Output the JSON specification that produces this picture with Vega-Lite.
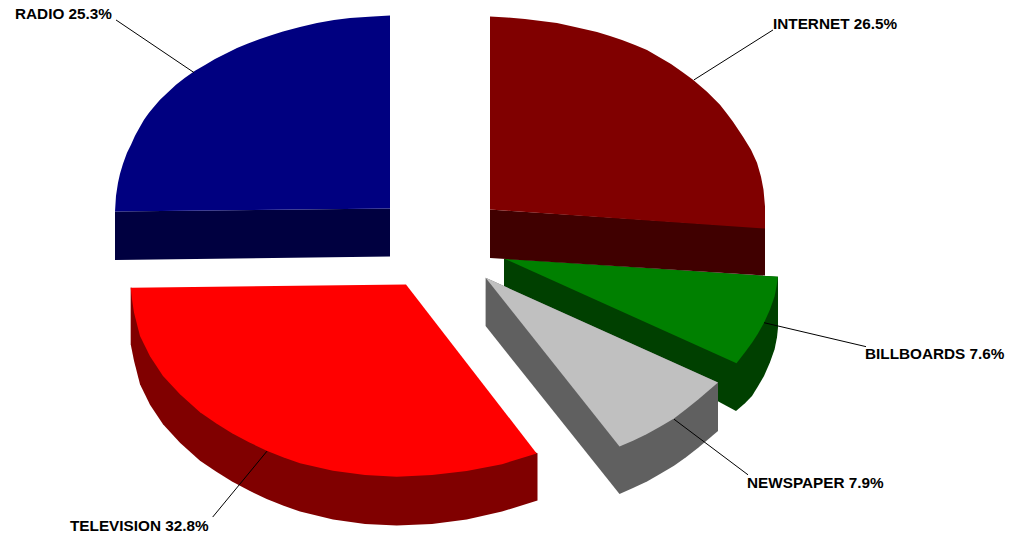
{"$schema":"https://vega.github.io/schema/vega-lite/v6.json","width":1010,"height":535,"padding":0,"autosize":{"type":"fit","contains":"padding"},"background":"white","config":{"view":{"stroke":null}},
"layer":[
{"data":{"values":[
{"part":"RADIO side","seq":1,"x":115,"y":212},{"part":"RADIO side","seq":2,"x":115,"y":260.5},{"part":"RADIO side","seq":3,"x":390,"y":257},{"part":"RADIO side","seq":4,"x":390,"y":209},
{"part":"RADIO top","seq":1,"x":390,"y":15.5},{"part":"RADIO top","seq":2,"x":373,"y":16.5},{"part":"RADIO top","seq":3,"x":350,"y":18},{"part":"RADIO top","seq":4,"x":334,"y":20},{"part":"RADIO top","seq":5,"x":317,"y":23},{"part":"RADIO top","seq":6,"x":300,"y":27},{"part":"RADIO top","seq":7,"x":283,"y":31.5},{"part":"RADIO top","seq":8,"x":272,"y":35},{"part":"RADIO top","seq":9,"x":260,"y":39},{"part":"RADIO top","seq":10,"x":248,"y":43.5},{"part":"RADIO top","seq":11,"x":237,"y":48},{"part":"RADIO top","seq":12,"x":226,"y":53.5},{"part":"RADIO top","seq":13,"x":215,"y":59},{"part":"RADIO top","seq":14,"x":205,"y":65},{"part":"RADIO top","seq":15,"x":195,"y":71},{"part":"RADIO top","seq":16,"x":185,"y":78},{"part":"RADIO top","seq":17,"x":176,"y":85},{"part":"RADIO top","seq":18,"x":168,"y":92.5},{"part":"RADIO top","seq":19,"x":160,"y":100},{"part":"RADIO top","seq":20,"x":154,"y":107},{"part":"RADIO top","seq":21,"x":149,"y":113},{"part":"RADIO top","seq":22,"x":144,"y":120},{"part":"RADIO top","seq":23,"x":140,"y":127},{"part":"RADIO top","seq":24,"x":135,"y":136},{"part":"RADIO top","seq":25,"x":131,"y":145},{"part":"RADIO top","seq":26,"x":127,"y":153},{"part":"RADIO top","seq":27,"x":123,"y":164},{"part":"RADIO top","seq":28,"x":120,"y":174},{"part":"RADIO top","seq":29,"x":118,"y":183},{"part":"RADIO top","seq":30,"x":116,"y":196},{"part":"RADIO top","seq":31,"x":115,"y":212},{"part":"RADIO top","seq":32,"x":390,"y":209},
{"part":"BILLBOARDS side","seq":1,"x":504,"y":259.3},{"part":"BILLBOARDS side","seq":2,"x":504,"y":286.7},{"part":"BILLBOARDS side","seq":3,"x":736,"y":411.7},{"part":"BILLBOARDS side","seq":4,"x":745,"y":404},{"part":"BILLBOARDS side","seq":5,"x":752,"y":396.7},{"part":"BILLBOARDS side","seq":6,"x":758,"y":387},{"part":"BILLBOARDS side","seq":7,"x":764,"y":376.7},{"part":"BILLBOARDS side","seq":8,"x":770,"y":363},{"part":"BILLBOARDS side","seq":9,"x":774.6,"y":350},{"part":"BILLBOARDS side","seq":10,"x":777,"y":338},{"part":"BILLBOARDS side","seq":11,"x":778,"y":328},{"part":"BILLBOARDS side","seq":12,"x":778,"y":277.3},
{"part":"BILLBOARDS top","seq":1,"x":504.6,"y":259.3},{"part":"BILLBOARDS top","seq":2,"x":778,"y":277.3},{"part":"BILLBOARDS top","seq":3,"x":776.5,"y":287},{"part":"BILLBOARDS top","seq":4,"x":774.6,"y":296.7},{"part":"BILLBOARDS top","seq":5,"x":770,"y":310},{"part":"BILLBOARDS top","seq":6,"x":764,"y":323.3},{"part":"BILLBOARDS top","seq":7,"x":758,"y":334},{"part":"BILLBOARDS top","seq":8,"x":752,"y":343.3},{"part":"BILLBOARDS top","seq":9,"x":745,"y":353},{"part":"BILLBOARDS top","seq":10,"x":736.5,"y":364},
{"part":"INTERNET side","seq":1,"x":490,"y":210},{"part":"INTERNET side","seq":2,"x":490,"y":258.5},{"part":"INTERNET side","seq":3,"x":765,"y":276},{"part":"INTERNET side","seq":4,"x":765,"y":228},
{"part":"INTERNET top","seq":1,"x":490,"y":16.5},{"part":"INTERNET top","seq":2,"x":507,"y":17.5},{"part":"INTERNET top","seq":3,"x":525,"y":19},{"part":"INTERNET top","seq":4,"x":541,"y":21},{"part":"INTERNET top","seq":5,"x":557,"y":23},{"part":"INTERNET top","seq":6,"x":575,"y":27},{"part":"INTERNET top","seq":7,"x":597,"y":32},{"part":"INTERNET top","seq":8,"x":610,"y":36},{"part":"INTERNET top","seq":9,"x":622,"y":40},{"part":"INTERNET top","seq":10,"x":635,"y":45},{"part":"INTERNET top","seq":11,"x":647,"y":50},{"part":"INTERNET top","seq":12,"x":659,"y":57},{"part":"INTERNET top","seq":13,"x":671,"y":64},{"part":"INTERNET top","seq":14,"x":682,"y":72},{"part":"INTERNET top","seq":15,"x":693,"y":80},{"part":"INTERNET top","seq":16,"x":707,"y":92},{"part":"INTERNET top","seq":17,"x":714,"y":99},{"part":"INTERNET top","seq":18,"x":720,"y":105},{"part":"INTERNET top","seq":19,"x":727,"y":114},{"part":"INTERNET top","seq":20,"x":733,"y":122},{"part":"INTERNET top","seq":21,"x":743,"y":137},{"part":"INTERNET top","seq":22,"x":751,"y":150},{"part":"INTERNET top","seq":23,"x":757,"y":163},{"part":"INTERNET top","seq":24,"x":761,"y":177},{"part":"INTERNET top","seq":25,"x":763.5,"y":190},{"part":"INTERNET top","seq":26,"x":765,"y":207},{"part":"INTERNET top","seq":27,"x":765,"y":229},{"part":"INTERNET top","seq":28,"x":490,"y":210},
{"part":"NEWSPAPER side","seq":1,"x":485.6,"y":278.3},{"part":"NEWSPAPER side","seq":2,"x":485.6,"y":326.7},{"part":"NEWSPAPER side","seq":3,"x":619.5,"y":495},{"part":"NEWSPAPER side","seq":4,"x":633,"y":489},{"part":"NEWSPAPER side","seq":5,"x":647,"y":482.5},{"part":"NEWSPAPER side","seq":6,"x":660,"y":475},{"part":"NEWSPAPER side","seq":7,"x":674,"y":466.7},{"part":"NEWSPAPER side","seq":8,"x":686,"y":458},{"part":"NEWSPAPER side","seq":9,"x":698.5,"y":448.3},{"part":"NEWSPAPER side","seq":10,"x":718,"y":431.7},{"part":"NEWSPAPER side","seq":11,"x":718,"y":383.3},
{"part":"NEWSPAPER top","seq":1,"x":485.6,"y":278.3},{"part":"NEWSPAPER top","seq":2,"x":718,"y":383.3},{"part":"NEWSPAPER top","seq":3,"x":698.5,"y":400},{"part":"NEWSPAPER top","seq":4,"x":686,"y":410},{"part":"NEWSPAPER top","seq":5,"x":674,"y":419.3},{"part":"NEWSPAPER top","seq":6,"x":660,"y":427.5},{"part":"NEWSPAPER top","seq":7,"x":646.5,"y":435},{"part":"NEWSPAPER top","seq":8,"x":633,"y":441.5},{"part":"NEWSPAPER top","seq":9,"x":619.5,"y":447.3},
{"part":"TELEVISION side","seq":1,"x":130.7,"y":288},{"part":"TELEVISION side","seq":2,"x":130.7,"y":345},{"part":"TELEVISION side","seq":3,"x":134,"y":361.5},{"part":"TELEVISION side","seq":4,"x":140,"y":385},{"part":"TELEVISION side","seq":5,"x":150,"y":405.5},{"part":"TELEVISION side","seq":6,"x":163,"y":425},{"part":"TELEVISION side","seq":7,"x":180,"y":443.5},{"part":"TELEVISION side","seq":8,"x":200,"y":461.5},{"part":"TELEVISION side","seq":9,"x":216,"y":472.5},{"part":"TELEVISION side","seq":10,"x":232,"y":482.5},{"part":"TELEVISION side","seq":11,"x":249,"y":491.5},{"part":"TELEVISION side","seq":12,"x":266.7,"y":500},{"part":"TELEVISION side","seq":13,"x":283,"y":506.5},{"part":"TELEVISION side","seq":14,"x":300,"y":512.5},{"part":"TELEVISION side","seq":15,"x":333,"y":520.5},{"part":"TELEVISION side","seq":16,"x":365,"y":525},{"part":"TELEVISION side","seq":17,"x":396.7,"y":526.5},{"part":"TELEVISION side","seq":18,"x":432,"y":525},{"part":"TELEVISION side","seq":19,"x":466.7,"y":520.5},{"part":"TELEVISION side","seq":20,"x":502,"y":512.5},{"part":"TELEVISION side","seq":21,"x":537.5,"y":501.5},{"part":"TELEVISION side","seq":22,"x":537.5,"y":454},
{"part":"TELEVISION top","seq":1,"x":130.7,"y":288.3},{"part":"TELEVISION top","seq":2,"x":406,"y":285},{"part":"TELEVISION top","seq":3,"x":536.7,"y":454.3},{"part":"TELEVISION top","seq":4,"x":502,"y":465},{"part":"TELEVISION top","seq":5,"x":466.7,"y":472},{"part":"TELEVISION top","seq":6,"x":432,"y":476},{"part":"TELEVISION top","seq":7,"x":396.7,"y":477.7},{"part":"TELEVISION top","seq":8,"x":365,"y":476},{"part":"TELEVISION top","seq":9,"x":333,"y":471.7},{"part":"TELEVISION top","seq":10,"x":300,"y":464},{"part":"TELEVISION top","seq":11,"x":283,"y":458},{"part":"TELEVISION top","seq":12,"x":266.7,"y":451.7},{"part":"TELEVISION top","seq":13,"x":249,"y":443},{"part":"TELEVISION top","seq":14,"x":232,"y":434},{"part":"TELEVISION top","seq":15,"x":216,"y":424},{"part":"TELEVISION top","seq":16,"x":200,"y":413},{"part":"TELEVISION top","seq":17,"x":180,"y":395},{"part":"TELEVISION top","seq":18,"x":163,"y":376.7},{"part":"TELEVISION top","seq":19,"x":150,"y":357},{"part":"TELEVISION top","seq":20,"x":140,"y":336.7},{"part":"TELEVISION top","seq":21,"x":134,"y":313},{"part":"TELEVISION top","seq":22,"x":132,"y":300}
]},
"mark":{"type":"line","filled":true,"interpolate":"linear-closed","strokeWidth":0},
"encoding":{"x":{"field":"x","type":"quantitative","scale":{"domain":[0,1010],"nice":false,"zero":false},"axis":null},"y":{"field":"y","type":"quantitative","scale":{"domain":[535,0],"nice":false,"zero":false},"axis":null},"order":{"field":"seq","type":"quantitative"},"detail":{"field":"part","type":"nominal"},"color":{"field":"part","type":"nominal","legend":null,"scale":{"domain":["RADIO side","RADIO top","BILLBOARDS side","BILLBOARDS top","INTERNET side","INTERNET top","NEWSPAPER side","NEWSPAPER top","TELEVISION side","TELEVISION top"],"range":["#000040","#000080","#004000","#008000","#400000","#800000","#606060","#C0C0C0","#800000","#FF0000"]}}}},
{"data":{"name":"labels","values":[
{"label":"RADIO 25.3%","tx":15,"ty":14,"x1":116,"y1":20,"x2":194,"y2":72.7},
{"label":"INTERNET 26.5%","tx":773,"ty":24,"x1":773,"y1":30,"x2":694,"y2":80},
{"label":"BILLBOARDS 7.6%","tx":865,"ty":355,"x1":866,"y1":347.3,"x2":764,"y2":323.3},
{"label":"NEWSPAPER 7.9%","tx":747,"ty":484,"x1":748,"y1":475.7,"x2":674,"y2":420},
{"label":"TELEVISION 32.8%","tx":70,"ty":527,"x1":212.7,"y1":518,"x2":267,"y2":452}
]},
"mark":{"type":"rule","color":"#000000","strokeWidth":1},
"encoding":{"x":{"field":"x1","type":"quantitative"},"y":{"field":"y1","type":"quantitative"},"x2":{"field":"x2"},"y2":{"field":"y2"}}},
{"data":{"name":"labels"},
"mark":{"type":"text","align":"left","baseline":"middle","font":"Liberation Sans","fontWeight":"bold","fontSize":15.3,"color":"#000000"},
"encoding":{"x":{"field":"tx","type":"quantitative"},"y":{"field":"ty","type":"quantitative"},"text":{"field":"label","type":"nominal"}}}
]}
